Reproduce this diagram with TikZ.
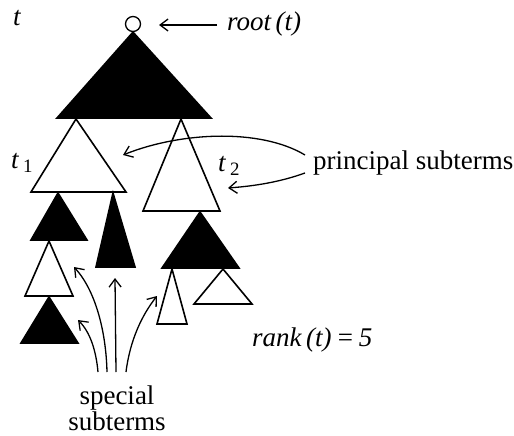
\documentclass[tikz,border=0pt]{standalone}
\usepackage{fontspec}
\setmainfont{Liberation Serif}
\usetikzlibrary{arrows.meta}
\begin{document}
\begin{tikzpicture}[x=1pt,y=-1pt,
  blk/.style={fill=black,draw=black,line width=1.6pt,line join=miter},
  wht/.style={fill=white,draw=black,line width=1.6pt,line join=miter},
  lbl/.style={inner sep=0pt,font=\fontsize{27}{30}\selectfont},
  arr/.style={line width=1.3pt,-{Straight Barb[length=8pt,width=12pt,line width=1.3pt]}}]
\useasboundingbox (0,0) rectangle (514,436);
% labels
\node[lbl] (tlab) at (17,18) {\itshape t};
\node[lbl,anchor=west] (rootlab) at (227,24) {\itshape root\,(t)};
\node[lbl] (t1lab) at (22,163) {\itshape t\,$_{\mathrm{1}}$};
\node[lbl] (t2lab) at (229,166) {\itshape t\,$_{\mathrm{2}}$};
\node[lbl,anchor=west] (plab) at (313,163) {principal subterms};
\node[lbl,anchor=base] (slab) at (117,404) {special};
\node[lbl,anchor=base] (slab2) at (117,430) {subterms};
\node[lbl,anchor=west] (rlab) at (252,340) {\itshape rank\,(t)\,=\,5};
% root
\node[circle,draw,line width=1.3pt,fill=white,minimum size=15pt,inner sep=0pt] (root) at (133,24) {};
% top black triangle
\draw[blk] (root.south) -- (57,118) -- (211,118) -- cycle;
% t1 and t2
\draw[wht] (76,119) -- (31,192) -- (126,192) -- cycle;
\draw[wht] (181,119) -- (143,211) -- (220,211) -- cycle;
% under t1
\draw[blk] (58,193) -- (31,240) -- (87,240) -- cycle;
\draw[blk] (113,193) -- (96,267) -- (135,267) -- cycle;
\draw[wht] (49,241) -- (25,296) -- (73,296) -- cycle;
\draw[blk] (49,297) -- (21,343) -- (78,343) -- cycle;
% under t2
\draw[blk] (200,212) -- (162,268) -- (239,268) -- cycle;
\draw[wht] (172,269) -- (157,324) -- (187,324) -- cycle;
\draw[wht] (223,269) -- (194,304) -- (252,304) -- cycle;
% arrow targets / sources
\coordinate (rootA) at (217,25);
\coordinate (rootB) at (159,25);
\coordinate (p1s) at (305,155);
\coordinate (p1e) at (123,155);
\coordinate (p2s) at (305,173);
\coordinate (p2e) at (228,188);
\coordinate (s1s) at (98,372);  \coordinate (s1e) at (78,320);
\coordinate (s2s) at (107,372); \coordinate (s2e) at (74,267);
\coordinate (s3s) at (116,372); \coordinate (s3e) at (115,278);
\coordinate (s4s) at (126,372); \coordinate (s4e) at (157,296);
% arrows
\draw[arr] (rootA) -- (rootB);
\draw[arr] (p1s) .. controls (260,128) and (180,132) .. (p1e);
\draw[arr] (p2s) .. controls (280,182) and (255,186) .. (p2e);
\draw[arr] (s1s) .. controls (96,350) and (90,332) .. (s1e);
\draw[arr] (s2s) .. controls (106,330) and (95,290) .. (s2e);
\draw[arr] (s3s) -- (s3e);
\draw[arr] (s4s) .. controls (130,340) and (142,315) .. (s4e);
\end{tikzpicture}
\end{document}
